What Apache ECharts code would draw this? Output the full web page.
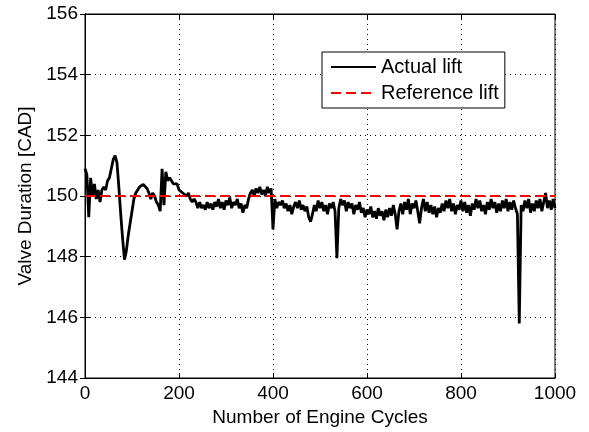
<!DOCTYPE html>
<html><head><meta charset="utf-8">
<script src="https://cdn.jsdelivr.net/npm/echarts@6/dist/echarts.min.js"></script>
<style>html,body{margin:0;padding:0;background:#fff}#c{width:589px;height:432px}</style>
</head><body><div id="c"></div>
<script>
// Sample spacing of the actual-lift trace (engine cycles per sample)
const cycleStep = 4;
// Actual valve duration [CAD], one value per sample (0,4,8,...,1000)
const actualLift = [
150.9,150.7,149.3,150.6,150.0,150.4,149.9,150.2,149.8,150.2,
150.3,150.2,150.5,150.6,150.9,151.2,151.33,151.1,150.3,149.4,
148.6,147.9,148.2,148.7,149.1,149.5,149.9,150.1,150.2,150.3,
150.3,150.38,150.35,150.25,150.1,149.9,150.1,150.0,149.8,149.7,
149.5,150.9,149.7,150.8,150.5,150.6,150.5,150.4,150.45,150.4,
150.2,150.25,150.1,150.15,150.0,150.1,149.9,149.8,149.9,149.8,
149.6,149.8,149.6,149.7,149.55,149.8,149.6,149.75,149.55,149.8,
149.65,149.9,149.6,149.8,149.55,149.85,149.7,149.95,149.6,149.8,
149.7,149.9,149.6,149.75,149.45,149.7,149.6,149.9,150.1,150.2,
150.0,150.25,150.1,150.3,150.05,150.2,150.0,150.3,150.1,150.25,
148.9,149.9,149.6,149.8,149.7,149.85,149.6,149.75,149.5,149.7,
149.4,149.65,149.8,149.6,149.85,149.55,149.7,149.5,149.65,149.3,
149.15,149.4,149.7,149.5,149.85,149.6,149.8,149.5,149.7,149.4,
149.75,149.6,149.8,149.5,147.95,149.6,149.9,149.7,149.85,149.5,
149.8,149.6,149.75,149.4,149.7,149.55,149.8,149.45,149.6,149.3,
149.55,149.4,149.65,149.3,149.5,149.25,149.6,149.35,149.5,149.2,
149.55,149.3,149.6,149.35,149.7,149.4,148.9,149.5,149.75,149.4,
149.8,149.55,149.9,149.4,149.75,149.6,149.85,149.5,149.1,149.6,
149.9,149.5,149.8,149.45,149.7,149.4,149.65,149.3,149.6,149.45,
149.75,149.5,149.85,149.6,149.9,149.5,149.75,149.4,149.7,149.55,
149.85,149.5,149.8,149.45,149.7,149.35,149.75,149.55,149.9,149.6,
149.85,149.5,149.7,149.4,149.8,149.55,149.9,149.6,149.8,149.45,
149.75,149.5,149.85,149.6,149.9,149.5,149.8,149.55,149.85,149.6,
149.4,145.8,149.7,149.5,149.85,149.6,149.9,149.45,149.75,149.5,
149.85,149.6,149.9,149.5,149.8,150.1,149.6,149.85,149.55,149.9,
149.6
];
// Reference lift line
const refCycles = [0, 1000];
const refLift = [150, 150];
const xTicks = [0, 200, 400, 600, 800, 1000];
const yTicks = [144, 146, 148, 150, 152, 154, 156];

const font = 'Liberation Sans, Arial, Helvetica, sans-serif';
const actualData = actualLift.map((v, i) => [i * cycleStep, v]);
const refData = refCycles.map((c, i) => [c, refLift[i]]);

const chart = echarts.init(document.getElementById('c'), null, {renderer: 'canvas'});
const gridLine = {show: true, lineStyle: {color: '#000', width: 1, type: [1, 4]}};
chart.setOption({
  animation: false,
  backgroundColor: '#fff',
  grid: {left: 85, right: 34, top: 14, bottom: 53, show: true, borderColor: '#000', borderWidth: 1, backgroundColor: '#fff'},
  legend: {
    left: 322, top: 52, orient: 'vertical',
    backgroundColor: '#fff', borderColor: '#000', borderWidth: 1,
    padding: [5, 6, 5, 8], itemGap: 6, itemWidth: 45, itemHeight: 14,
    itemStyle: {opacity: 0},
    textStyle: {fontFamily: font, fontSize: 20, color: '#000'},
    data: ['Actual lift', 'Reference lift']
  },
  xAxis: [{
    type: 'value', min: xTicks[0], max: xTicks[xTicks.length - 1], interval: 200,
    name: 'Number of Engine Cycles', nameLocation: 'middle', nameGap: 30,
    nameTextStyle: {fontFamily: font, fontSize: 19, color: '#000'},
    axisLine: {show: true, lineStyle: {color: '#000', width: 1}},
    axisTick: {show: true, inside: true, length: 5, lineStyle: {color: '#000'}},
    axisLabel: {fontFamily: font, fontSize: 19, color: '#000', margin: 6, formatter: v => String(v)},
    splitLine: gridLine
  }, {
    type: 'value', position: 'top', min: xTicks[0], max: xTicks[xTicks.length - 1], interval: 200,
    axisLine: {show: true, lineStyle: {color: '#000'}},
    axisTick: {show: true, inside: true, length: 5, lineStyle: {color: '#000'}},
    axisLabel: {show: false}, splitLine: {show: false}
  }],
  yAxis: [{
    type: 'value', min: yTicks[0], max: yTicks[yTicks.length - 1], interval: 2,
    name: 'Valve Duration [CAD]', nameLocation: 'middle', nameGap: 48,
    nameTextStyle: {fontFamily: font, fontSize: 19, color: '#000'},
    axisLine: {show: true, lineStyle: {color: '#000', width: 1}},
    axisTick: {show: true, inside: true, length: 5, lineStyle: {color: '#000'}},
    axisLabel: {fontFamily: font, fontSize: 19, color: '#000', margin: 7},
    splitLine: gridLine
  }, {
    type: 'value', position: 'right', min: yTicks[0], max: yTicks[yTicks.length - 1], interval: 2,
    axisLine: {show: true, lineStyle: {color: '#000'}},
    axisTick: {show: true, inside: true, length: 5, lineStyle: {color: '#000'}},
    axisLabel: {show: false}, splitLine: {show: false}
  }],
  series: [{
    name: 'Actual lift', type: 'line', data: actualData, showSymbol: false, symbol: 'none',
    lineStyle: {color: '#000', width: 2.8}, itemStyle: {color: '#000'}
  }, {
    name: 'Reference lift', type: 'line', data: refData, showSymbol: false, symbol: 'none',
    lineStyle: {color: '#ff0000', width: 2, type: [10, 5]}, itemStyle: {color: '#ff0000'}
  }]
});
</script></body></html>
